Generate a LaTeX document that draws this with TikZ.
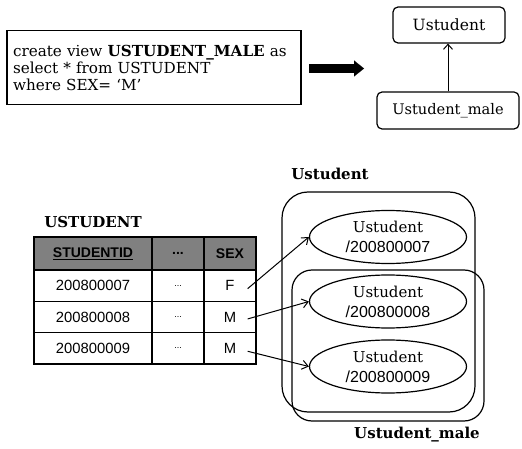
\documentclass[tikz,border=0pt]{standalone}
\usepackage{fontspec}
\setmainfont{DejaVu Serif}
\newfontfamily\sansf{Liberation Sans}
\usetikzlibrary{arrows.meta,shapes.geometric}
\begin{document}
\begin{tikzpicture}[x=1pt,y=-1pt,
  sqlbox/.style={draw,line width=1.6pt,minimum width=294pt,minimum height=74pt,inner sep=0pt,text width=282pt,align=left,font=\fontsize{15.2}{17}\selectfont},
  classbox/.style={draw,line width=1.2pt,rounded corners=5pt,inner sep=0pt,font=\fontsize{14.6}{16}\selectfont},
  cell/.style={draw,line width=1.3pt,inner sep=0pt,minimum height=31.3pt,font=\sansf\fontsize{14.8}{16}\selectfont},
  hcell/.style={cell,fill=black!50,minimum height=33pt,font=\sansf\bfseries\fontsize{14}{16}\selectfont},
  obj/.style={draw,ellipse,line width=1.2pt,minimum width=157pt,minimum height=53pt,inner sep=0pt,align=center,font=\fontsize{15}{20}\selectfont},
  setbox/.style={draw,line width=1.2pt,inner sep=0pt},
  lab/.style={font=\bfseries\fontsize{15}{17}\selectfont},
  conn/.style={line width=1pt,-{Straight Barb[length=6pt,width=9pt]}}
]
\useasboundingbox (0,0) rectangle (522,449);

% SQL statement
\node[sqlbox] (sql) at (154,67.5) {create view \textbf{USTUDENT\_MALE} as\\select * from USTUDENT\\where SEX= `M'};

% thick arrow
\coordinate (ta) at (309,68.5);
\coordinate (tb) at (364,68.5);
\draw[line width=9pt,-{Triangle[length=10pt,width=16pt,line width=0.1pt]}] (ta) -- (tb);

% class boxes
\node[classbox,minimum width=112pt,minimum height=36pt,font=\fontsize{15.5}{17}\selectfont] (cu) at (449,25) {Ustudent};
\node[classbox,minimum width=142pt,minimum height=37pt] (cm) at (448,110.5) {Ustudent\_male};
\draw[line width=1pt,-{Straight Barb[length=5pt,width=9pt]}] (cm.north) -- (cm.north |- cu.south);

% table
\node[lab] (tname) at (93,222) {USTUDENT};
\node[hcell,minimum width=118pt] (h1) at (93,253.5) {\underline{STUDENTID}};
\node[hcell,minimum width=52pt] (h2) at (178,253.5) {...};
\node[hcell,minimum width=52pt] (h3) at (230,253.5) {SEX};

\node[cell,minimum width=118pt] (i1) at (93,285.65) {200800007};
\node[cell,minimum width=52pt] (d1) at (178,285.65) {\fontsize{9}{10}\selectfont ...};
\node[cell,minimum width=52pt] (s1) at (230,285.65) {F};

\node[cell,minimum width=118pt] (i2) at (93,316.95) {200800008};
\node[cell,minimum width=52pt] (d2) at (178,316.95) {\fontsize{9}{10}\selectfont ...};
\node[cell,minimum width=52pt] (s2) at (230,316.95) {M};

\node[cell,minimum width=118pt] (i3) at (93,348.25) {200800009};
\node[cell,minimum width=52pt] (d3) at (178,348.25) {\fontsize{9}{10}\selectfont ...};
\node[cell,minimum width=52pt] (s3) at (230,348.25) {M};

% sets
\node[lab] (ulab) at (330,174) {Ustudent};
\node[setbox,rounded corners=26pt,minimum width=193pt,minimum height=220pt] (uset) at (378.5,302) {};
\node[setbox,rounded corners=20pt,minimum width=192pt,minimum height=151pt] (mset) at (388,345.5) {};
\node[lab] (mlab) at (417,435) {Ustudent\_male};

% objects
\node[obj] (e1) at (388,237) {Ustudent\\{\sansf\fontsize{16}{20}\selectfont /200800007}};
\node[obj] (e2) at (388,301.5) {Ustudent\\{\sansf\fontsize{16}{20}\selectfont /200800008}};
\node[obj] (e3) at (388,366.5) {Ustudent\\{\sansf\fontsize{16}{20}\selectfont /200800009}};

% connectors
\draw[conn] ([xshift=-9pt,yshift=-3pt]s1.east) -- (e1.west);
\draw[conn] ([xshift=-9pt,yshift=-2pt]s2.east) -- (e2.west);
\draw[conn] ([xshift=-9pt,yshift=-3pt]s3.east) -- (e3.west);
\end{tikzpicture}
\end{document}
